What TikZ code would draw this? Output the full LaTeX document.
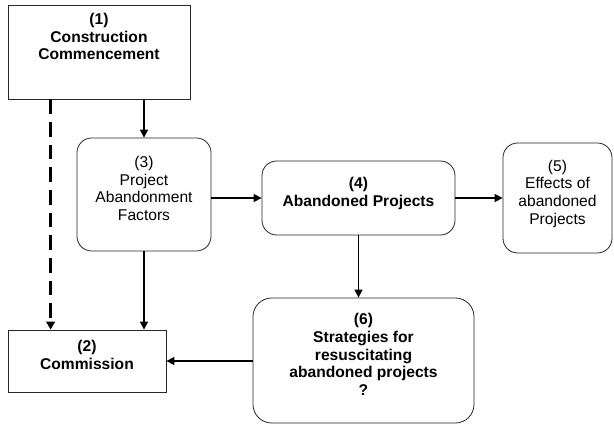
\documentclass[tikz,border=0pt]{standalone}
\usepackage{fontspec}
\setmainfont{Liberation Sans}
\usetikzlibrary{arrows.meta}

\tikzset{
  sqbox/.style={draw=black!85, line width=0.6pt, align=center, inner sep=2pt, text depth=9pt},
  rbox/.style={sqbox, rounded corners=11pt},
  arr/.style={line width=1.1pt, -{Triangle[length=6pt,width=6pt]}},
  darr/.style={line width=2.2pt, dash pattern=on 11pt off 6pt, -{Triangle[length=6pt,width=6.5pt]}},
}

\begin{document}
\begin{tikzpicture}[x=0.75pt, y=0.75pt, font=\fontsize{11.7}{13.2}\selectfont]

\useasboundingbox (0,0) rectangle (614,424);

% boxes
\node[sqbox, minimum width=136.5pt, minimum height=70.5pt, text depth=23pt] (cc) at (99,372) {\textbf{(1)}\\\textbf{Construction}\\\textbf{Commencement}};
\node[sqbox, minimum width=118.5pt, minimum height=46.5pt] (cm) at (87,63) {\textbf{(2)}\\\textbf{Commission}};
\node[rbox, minimum width=100.5pt, minimum height=84.75pt] (af) at (144,229.5) {(3)\\Project\\Abandonment\\Factors};
\node[rbox, minimum width=144.75pt, minimum height=55.5pt] (ap) at (358.5,226) {\textbf{(4)}\\\textbf{Abandoned Projects}};
\node[rbox, minimum width=81.75pt, minimum height=82.5pt] (ef) at (557.5,226) {(5)\\Effects of\\abandoned\\Projects};
\node[rbox, minimum width=165.75pt, minimum height=93.75pt, rounded corners=14pt] (st) at (363.5,63.5) {\textbf{(6)}\\\textbf{Strategies for}\\\textbf{resuscitating}\\\textbf{abandoned projects}\\\textbf{?}};

% connectors
\draw[darr] ([xshift=32.25pt]cc.south west) -- ([xshift=32.25pt]cm.north west);
\draw[arr] (cc.south -| af.north) -- (af.north);
\draw[arr] (af.south) -- (af.south |- cm.north);
\draw[arr] (af.east |- ap) -- (ap.west);
\draw[arr] (ap.east) -- (ef.west |- ap);
\draw[arr] (ap.south) -- (ap.south |- st.north);
\draw[arr] (st.west |- cm) -- (cm.east);

\end{tikzpicture}
\end{document}
